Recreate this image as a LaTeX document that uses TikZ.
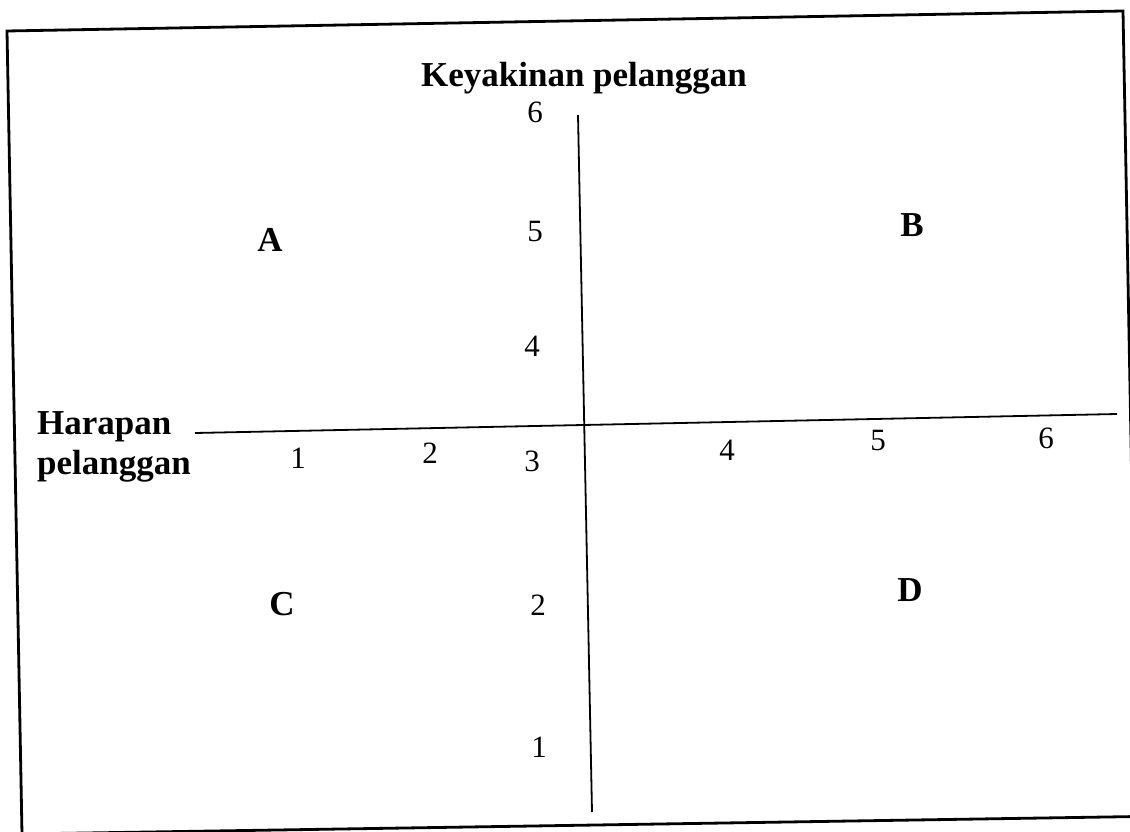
\documentclass[tikz,border=0pt]{standalone}
\usepackage{fontspec}
\setmainfont{Liberation Serif}
\begin{document}
\begin{tikzpicture}[x=1pt,y=-1pt,
  lbl/.style={font=\fontsize{35}{40}\selectfont\bfseries, inner sep=0pt},
  num/.style={font=\fontsize{31}{35}\selectfont, inner sep=0pt},
  framebox/.style={line width=2.8pt},
  axisline/.style={line width=1.8pt}]
\useasboundingbox (0,0) rectangle (1130,832);
\clip (0,0) rectangle (1130,832);
% frame (slightly tilted as in the scan)
\coordinate (tl) at (7,31);
\coordinate (tr) at (1123,11);
\coordinate (br) at (1138,816.5);
\coordinate (bl) at (22,834);
\draw[framebox] (tl) -- (tr) -- (br) -- (bl) -- cycle;
% axes
\coordinate (vt) at (578,115);
\coordinate (vb) at (592,812);
\coordinate (hl) at (195,433);
\coordinate (hr) at (1117,414);
\draw[axisline] (vt) -- (vb);
\draw[axisline] (hl) -- (hr);
% axis titles
\node[lbl, anchor=base] (ytitle) at (584,87) {Keyakinan pelanggan};
\node[lbl, anchor=base west] (xtitle1) at (37,434) {Harapan};
\node[lbl, anchor=base west] (xtitle2) at (37,474) {pelanggan};
% vertical scale
\node[num] (v6) at (535,112) {6};
\node[num] (v5) at (535,232) {5};
\node[num] (v4) at (532,346) {4};
\node[num] (v3) at (532,461) {3};
\node[num] (v2) at (538,605) {2};
\node[num] (v1) at (539,747) {1};
% horizontal scale
\node[num] (h1) at (298,458) {1};
\node[num] (h2) at (430,453) {2};
\node[num] (h4) at (727,450) {4};
\node[num] (h5) at (878,440) {5};
\node[num] (h6) at (1046,438) {6};
% quadrant letters
\node[lbl] (qa) at (270,240) {A};
\node[lbl] (qb) at (912,225) {B};
\node[lbl] (qc) at (282,604) {C};
\node[lbl] (qd) at (910,590) {D};
\end{tikzpicture}
\end{document}
